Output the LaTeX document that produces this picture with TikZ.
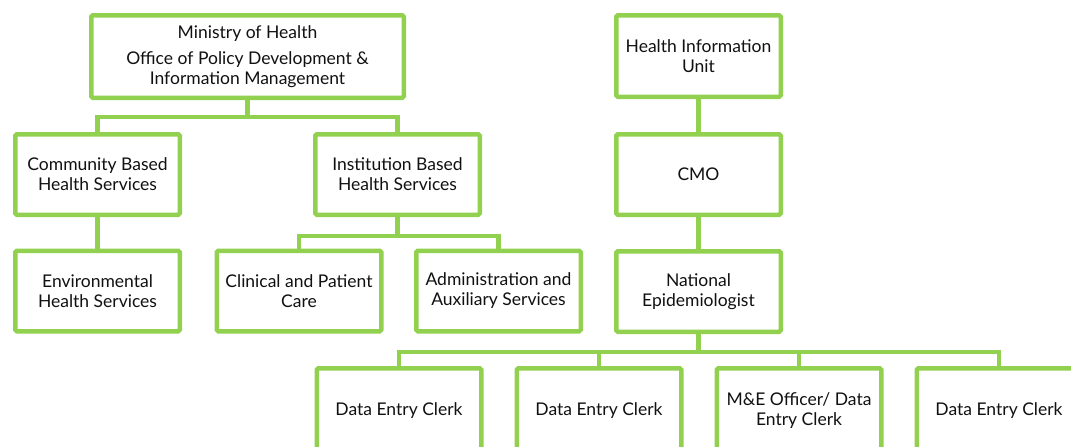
\documentclass[tikz,border=0pt]{standalone}
\usepackage{fontspec}
\setmainfont{Lato}
\definecolor{boxgreen}{HTML}{92D050}
\definecolor{txt}{HTML}{111111}
\begin{document}
\begin{tikzpicture}[x=1pt,y=-1pt,
  box/.style={draw=boxgreen,line width=4.5pt,rounded corners=1.5pt,fill=white,
    minimum width=164.5pt,minimum height=80.5pt,align=center,text=txt,
    font=\fontsize{17.5}{20}\selectfont,inner sep=2pt},
  link/.style={draw=boxgreen,line width=4.5pt}]
\useasboundingbox (0,0) rectangle (1071,447);
\clip (0,0) rectangle (1071,447);
% nodes
\node[box,minimum width=312.5pt,minimum height=82.5pt] (mo) at (247.5,56.5)
  {Ministry of Health\\[6pt]Office of Policy Development \&\\Information Management};
\node[box] (cb) at (97.5,174.5) {Community Based\\Health Services};
\node[box] (ib) at (397.5,174.5) {Institution Based\\Health Services};
\node[box] (env) at (97.5,291) {Environmental\\Health Services};
\node[box] (cp) at (299,291) {Clinical and Patient\\Care};
\node[box] (aa) at (498.5,291) {Administration and\\Auxiliary Services};
\node[box,minimum height=81.5pt] (hiu) at (698.5,56) {Health Information\\Unit};
\node[box] (cmo) at (698.5,174.5) {CMO};
\node[box] (ne) at (698.5,291.5) {National\\Epidemiologist};
\node[box,minimum height=84.5pt] (d1) at (399,410.5) {Data Entry Clerk};
\node[box,minimum height=84.5pt] (d2) at (599,410.5) {Data Entry Clerk};
\node[box,minimum height=84.5pt] (d3) at (799,410.5) {M\&E Officer/ Data\\Entry Clerk};
\node[box,minimum height=84.5pt] (d4) at (999,410.5) {Data Entry Clerk};
% connectors
\draw[link] (mo.south) -- ++(0,17) -| (cb.north);
\draw[link] (mo.south) -- ++(0,17) -| (ib.north);
\draw[link] (cb.south) -- (env.north);
\draw[link] (ib.south) -- ++(0,19) -| (cp.north);
\draw[link] (ib.south) -- ++(0,19) -| (aa.north);
\draw[link] (hiu.south) -- (cmo.north);
\draw[link] (cmo.south) -- (ne.north);
\draw[link] (ne.south) -- ++(0,18) -| (d1.north);
\draw[link] (ne.south) -- ++(0,18) -| (d2.north);
\draw[link] (ne.south) -- ++(0,18) -| (d3.north);
\draw[link] (ne.south) -- ++(0,18) -| (d4.north);
\end{tikzpicture}
\end{document}
